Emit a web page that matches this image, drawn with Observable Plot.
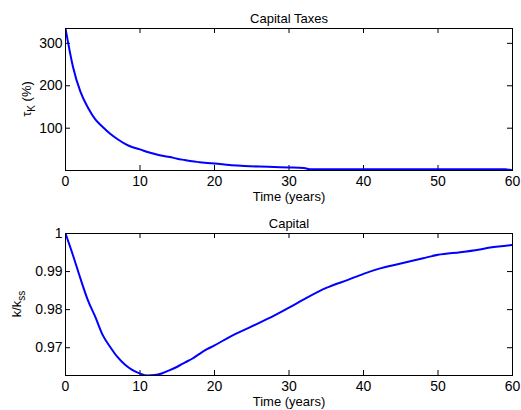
<!DOCTYPE html>
<html>
<head>
<meta charset="utf-8">
<script src="https://cdn.jsdelivr.net/npm/d3@7"></script>
<script src="https://cdn.jsdelivr.net/npm/@observablehq/plot@0.6"></script>
<style>
  html, body { margin: 0; padding: 0; background: #fff; }
  #chart { width: 521px; }
  #chart svg { display: block; }
</style>
</head>
<body>
<div id="chart"></div>
<script>
// ---- data ----
const taxYears = [0,1,2,3,4,5,6,7,8,9,10,11,12,13,14,15,16,17,18,19,20,22,24,26,28,30,32,33,36,40,45,50,55,59,60];
const taxValues = [335,245,186,149,121,103,87,74,63,55,50,44,39,35,32,28,25,22,20,18,17,13,11,9.5,8.5,7.5,6,3.2,3,3,3,3,3,3,0.3];
const capYears = [0,1,2,3,4,5,6,7,8,9,10,11,12,13,14,15,16,17,18,19,20,22,25,28,30,32,35,38,40,42,45,48,50,53,55,57,60];
const capValues = [1.0,0.9943,0.9882,0.9825,0.9781,0.9733,0.9702,0.9675,0.9655,0.9641,0.9632,0.9627,0.9628,0.9633,0.9641,0.9650,0.9661,0.9671,0.9684,0.9696,0.9706,0.9728,0.9756,0.9784,0.9805,0.9827,0.9857,0.9879,0.9894,0.9907,0.9921,0.9935,0.9944,0.9951,0.9956,0.9963,0.9970];
const xTicks = [0,10,20,30,40,50,60];
const taxTicks = [100,200,300];
const capTicks = [0.97,0.98,0.99,1];
const titles = ["Capital Taxes", "Capital"];
const xLabel = "Time (years)";

const W = 521, H = 205;
const mL = 65, mR = 9, mT = 28, mB = 35;
const frameH = H - mT - mB, frameW = W - mL - mR;
const font = "Liberation Sans, Arial, Helvetica, sans-serif";
const tick = 5; // tick length in px

function subplot(years, values, yTicks, title, yLabelParts) {
  const data = years.map((t, i) => ({t, v: values[i]}));
  const [y0, y1] = d3.extent(values);
  const [x0, x1] = [0, 60];
  const dy = (y1 - y0) * tick / frameH; // tick length in y units
  const dx = (x1 - x0) * tick / frameW; // tick length in x units
  const svg = Plot.plot({
    width: W, height: H,
    marginLeft: mL, marginRight: mR, marginTop: mT, marginBottom: mB,
    style: {fontFamily: font, fontSize: "13px", color: "black", background: "white"},
    x: {domain: [x0, x1]},
    y: {domain: [y0, y1]},
    marks: [
      // inward ticks on all four sides
      Plot.ruleX(xTicks, {x: d => d, y1: y0, y2: y0 + dy, stroke: "black"}),
      Plot.ruleX(xTicks, {x: d => d, y1: y1 - dy, y2: y1, stroke: "black"}),
      Plot.ruleY(yTicks, {y: d => d, x1: x0, x2: x0 + dx, stroke: "black"}),
      Plot.ruleY(yTicks, {y: d => d, x1: x1 - dx, x2: x1, stroke: "black"}),
      Plot.line(data, {x: "t", y: "v", stroke: "#0000ff", strokeWidth: 2, curve: "monotone-x", clip: true}),
      Plot.axisX(xTicks, {anchor: "bottom", tickSize: 0, tickPadding: 6, label: null, fontSize: 14}),
      Plot.axisY(yTicks, {anchor: "left", tickSize: 0, tickPadding: 3, label: null, fontSize: 14, tickFormat: d => String(d)}),
      Plot.frame({stroke: "black"}),
      Plot.text([title], {frameAnchor: "top", dy: -15, fontSize: 13}),
      Plot.text([xLabel], {frameAnchor: "bottom", dy: 30, fontSize: 13})
    ]
  });
  // y label with subscript, as real text
  const sel = d3.select(svg);
  const lbl = sel.append("text")
    .attr("transform", `translate(${yLabelParts.x},${mT + frameH / 2}) rotate(-90)`)
    .attr("text-anchor", "middle")
    .attr("font-family", font)
    .attr("font-size", 13)
    .attr("fill", "black")
    .attr("dy", "0.35em");
  lbl.append("tspan").text(yLabelParts.base);
  lbl.append("tspan").attr("dy", 4).attr("font-size", 10).text(yLabelParts.sub);
  if (yLabelParts.rest) lbl.append("tspan").attr("dy", -4).text(yLabelParts.rest);
  return svg;
}

const chart = document.getElementById("chart");
chart.appendChild(subplot(taxYears, taxValues, taxTicks, titles[0], {base: "τ", sub: "K", rest: " (%)", x: 26}));
chart.appendChild(subplot(capYears, capValues, capTicks, titles[1], {base: "k/k", sub: "ss", rest: "", x: 16}));
</script>
</body>
</html>
